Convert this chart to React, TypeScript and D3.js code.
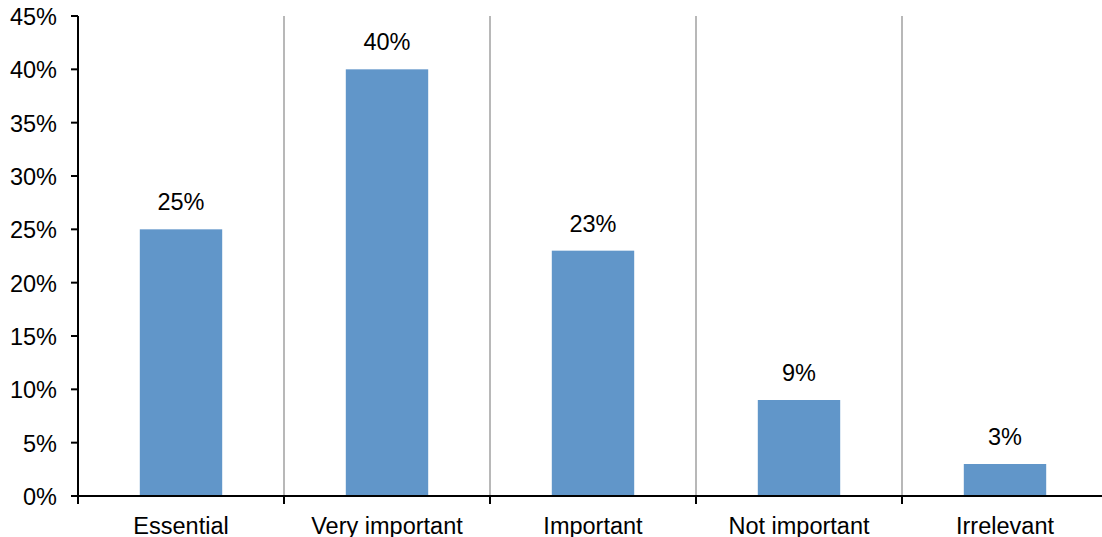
import React from "react";
import * as d3 from "d3";

const categories = ["Essential", "Very important", "Important", "Not important", "Irrelevant"];
const values = [25, 40, 23, 9, 3];
const yTicks = [0, 5, 10, 15, 20, 25, 30, 35, 40, 45];

export default function App() {
  const W = 1102, H = 537;
  const left = 78, right = 1108, top = 16, bottom = 496;
  const x = d3.scaleBand<string>().domain(categories).range([left, right]).paddingInner(0).paddingOuter(0);
  const y = d3.scaleLinear().domain([0, 45]).range([bottom, top]);
  const bw = x.bandwidth() * 0.4;
  const font = "Liberation Sans, Arial, sans-serif";
  const fs = 23.5;
  return (
    <svg width={W} height={H} style={{ position: "absolute", left: 0, top: 0 }} fontFamily={font}>
      {categories.slice(1).map((c) => (
        <line key={c} x1={x(c)!} x2={x(c)!} y1={top} y2={bottom} stroke="#a0a0a0" strokeWidth={1.5} />
      ))}
      {categories.map((c, i) => {
        const cx = x(c)! + x.bandwidth() / 2;
        return (
          <g key={c}>
            <rect x={cx - bw / 2} y={y(values[i])} width={bw} height={bottom - y(values[i])} fill="#6196C9" />
            <text x={cx} y={y(values[i]) - 19} textAnchor="middle" fontSize={fs} fill="#000">{values[i]}%</text>
            <text x={cx} y={534} textAnchor="middle" fontSize={fs} fill="#000">{c}</text>
          </g>
        );
      })}
      <line x1={left} x2={left} y1={top} y2={bottom} stroke="#000" strokeWidth={2} />
      <line x1={left - 1} x2={W} y1={bottom} y2={bottom} stroke="#000" strokeWidth={2} />
      {yTicks.map((t) => (
        <g key={t}>
          <line x1={left - 7} x2={left} y1={y(t)} y2={y(t)} stroke="#000" strokeWidth={2} />
          <text x={57} y={y(t) + 9} textAnchor="end" fontSize={fs} fill="#000">{t}%</text>
        </g>
      ))}
      {categories.map((c) => (
        <line key={c} x1={x(c)!} x2={x(c)!} y1={bottom} y2={bottom + 8} stroke="#000" strokeWidth={2} />
      ))}
    </svg>
  );
}
